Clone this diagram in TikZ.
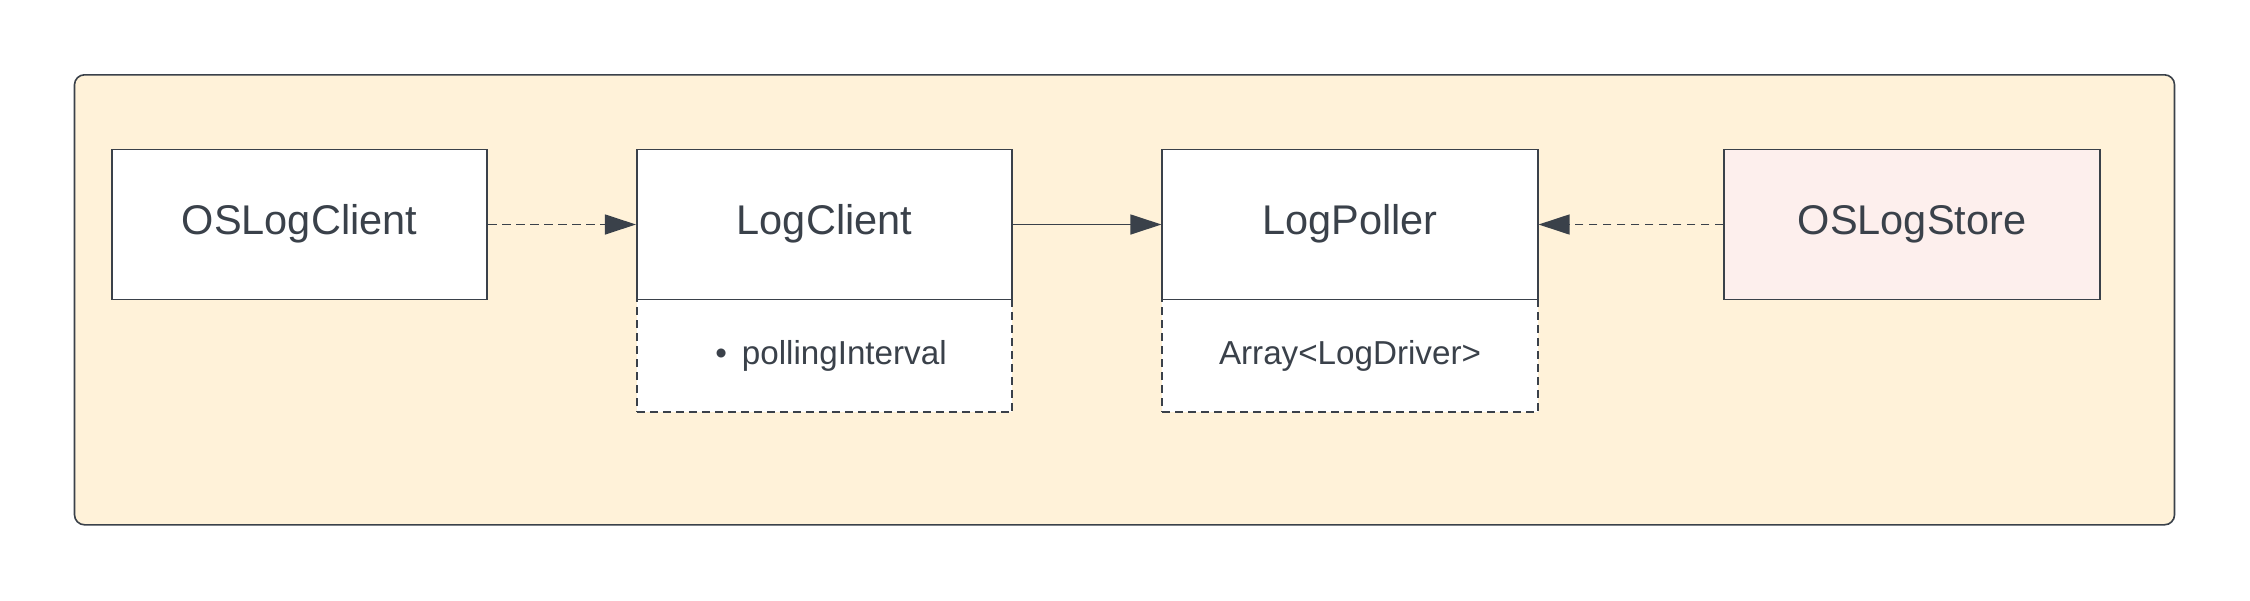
\documentclass[tikz,border=0pt]{standalone}
\usepackage{fontspec}
\setmainfont{Liberation Sans}
\usetikzlibrary{arrows.meta}
\definecolor{ink}{HTML}{3A414A}
\definecolor{sand}{HTML}{FFF2D9}
\definecolor{blush}{HTML}{FDEFED}
\tikzset{
  frame/.style={draw=ink, line width=1.6pt, fill=sand, rounded corners=10pt, inner sep=0pt, minimum width=2100pt, minimum height=450pt},
  classbox/.style={draw=ink, line width=1.6pt, fill=white, inner sep=0pt, minimum width=375.5pt, minimum height=150pt, text=ink, text height=30pt, text depth=11pt, font=\fontsize{41.5}{49}\selectfont},
  attrbox/.style={draw=ink, line width=1.6pt, dash pattern=on 8pt off 5pt, fill=white, inner sep=0pt, minimum width=375.5pt, minimum height=112.5pt, text=ink, font=\fontsize{33.2}{40}\selectfont},
  link/.style={draw=ink, line width=1.3pt, -{Triangle[length=31pt, width=20pt]}},
  dashlink/.style={link, dash pattern=on 8.5pt off 5.5pt},
}
\begin{document}
\begin{tikzpicture}[x=1pt, y=-1pt]
\useasboundingbox (0,0) rectangle (2250,600);
\node[frame] (frame) at (1124.5,299.8) {};
\node[classbox] (oslogclient) at (299.5,224.5) {OSLogClient};
\node[attrbox] (logclientattr) at (824.5,355.8) {\hspace{13pt}\textbullet\hspace{0.45em}pollingInterval};
\node[classbox] (logclient) at (824.5,224.5) {LogClient};
\node[attrbox] (logpollerattr) at (1350,355.8) {Array<LogDriver>};
\node[classbox] (logpoller) at (1350,224.5) {LogPoller};
\node[classbox, fill=blush] (oslogstore) at (1912,224.5) {OSLogStore};
\draw[dashlink] (oslogclient.east) -- (logclient.west);
\draw[link] (logclient.east) -- (logpoller.west);
\draw[dashlink] (oslogstore.west) -- (logpoller.east);
\end{tikzpicture}
\end{document}
